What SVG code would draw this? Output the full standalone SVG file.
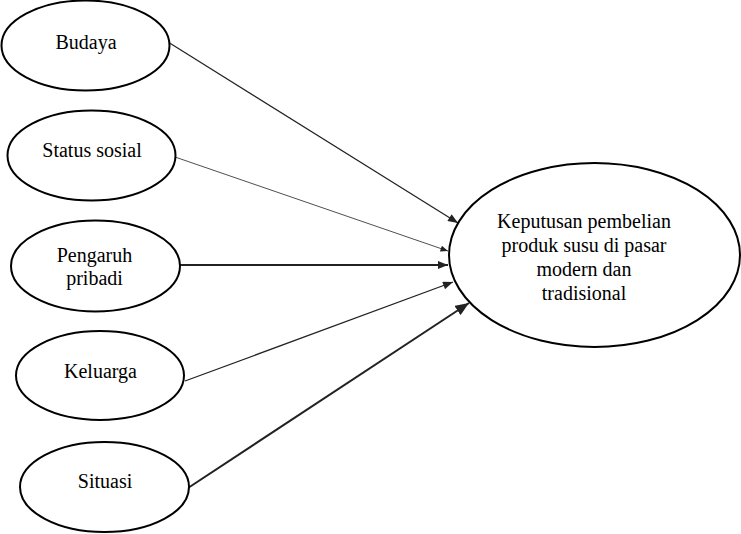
<svg xmlns="http://www.w3.org/2000/svg" width="741" height="534" viewBox="0 0 741 534">
<style>
.node ellipse{fill:#fff;stroke:#000;stroke-width:2}
.node text{font-family:"Liberation Serif","Times New Roman",serif;font-size:20px;fill:#000;text-anchor:middle}
.conn line{stroke:#222;fill:none}
</style>
<defs>
<marker id="ahS" viewBox="0 0 10 8" refX="10" refY="4" markerWidth="9" markerHeight="6" markerUnits="userSpaceOnUse" orient="auto"><path d="M0,0 L10,4 L0,8 z" fill="#222"/></marker>
<marker id="ahM" viewBox="0 0 10 8" refX="10" refY="4" markerWidth="11" markerHeight="8" markerUnits="userSpaceOnUse" orient="auto"><path d="M0,0 L10,4 L0,8 z" fill="#222"/></marker>
<marker id="ahL" viewBox="0 0 10 8" refX="10" refY="4" markerWidth="14" markerHeight="11" markerUnits="userSpaceOnUse" orient="auto"><path d="M0,0 L10,4 L0,8 z" fill="#222"/></marker>
</defs>
<rect width="741" height="534" fill="#fff"/>
<g id="connectors" class="conn">
<line x1="168" y1="42" x2="458" y2="223" stroke-width="1.2" marker-end="url(#ahM)"/>
<line x1="175" y1="157" x2="448" y2="251" stroke-width="0.8" marker-end="url(#ahS)"/>
<line x1="180" y1="265" x2="448" y2="265" stroke-width="2" marker-end="url(#ahM)"/>
<line x1="185" y1="381" x2="453" y2="282" stroke-width="1.2" marker-end="url(#ahM)"/>
<line x1="188" y1="488" x2="469" y2="303" stroke-width="2" marker-end="url(#ahL)"/>
</g>
<g id="budaya" class="node">
<ellipse cx="85.5" cy="45.5" rx="84" ry="45"/>
<text x="86" y="49">Budaya</text>
</g>
<g id="status-sosial" class="node">
<ellipse cx="91.5" cy="155.5" rx="84" ry="45"/>
<text x="92" y="157">Status sosial</text>
</g>
<g id="pengaruh-pribadi" class="node">
<ellipse cx="95.5" cy="266" rx="84.5" ry="45.5"/>
<text x="94.5" y="262">Pengaruh</text>
<text x="94.5" y="285">pribadi</text>
</g>
<g id="keluarga" class="node">
<ellipse cx="100" cy="375.5" rx="84" ry="44.5"/>
<text x="100.5" y="378">Keluarga</text>
</g>
<g id="situasi" class="node">
<ellipse cx="104.5" cy="487" rx="84.5" ry="45"/>
<text x="105" y="488">Situasi</text>
</g>
<g id="keputusan" class="node">
<ellipse cx="594.5" cy="255" rx="145.5" ry="92"/>
<text x="584" y="228">Keputusan pembelian</text>
<text x="584" y="252">produk susu di pasar</text>
<text x="584" y="276">modern dan</text>
<text x="584" y="300">tradisional</text>
</g>
</svg>
